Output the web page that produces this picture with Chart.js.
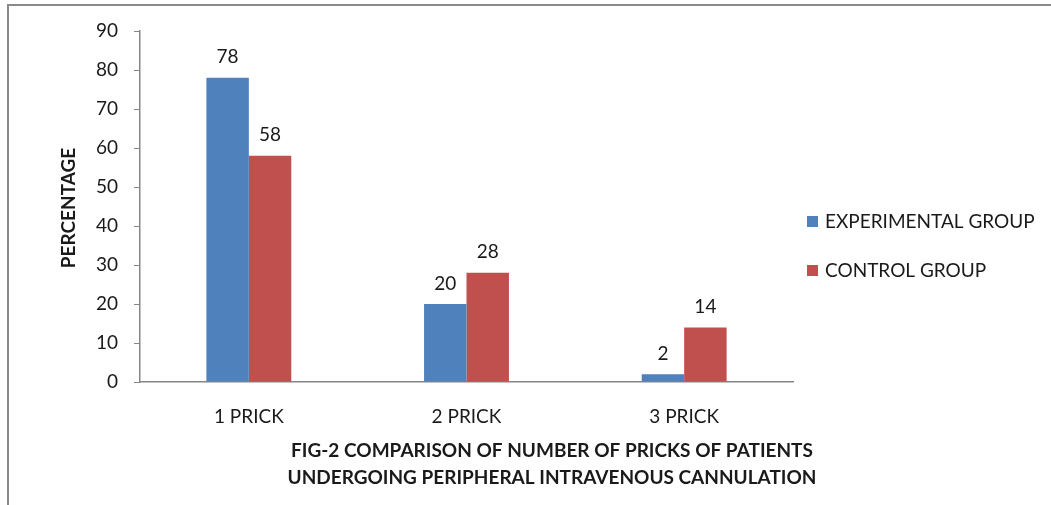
<!DOCTYPE html>
<html>
<head>
<meta charset="utf-8">
<script src="https://cdn.jsdelivr.net/npm/chart.js@4"></script>
<style>
  html, body { margin: 0; padding: 0; background: #fff; }
  #wrap { width: 1051px; height: 505px; }
</style>
</head>
<body>
<div id="wrap"><canvas id="prickChart" width="1051" height="505"></canvas></div>
<script>
const categories = ['1 PRICK', '2 PRICK', '3 PRICK'];
const experimentalValues = [78, 20, 2];
const controlValues = [58, 28, 14];
const seriesNames = ['EXPERIMENTAL GROUP', 'CONTROL GROUP'];
const yTicks = [0, 10, 20, 30, 40, 50, 60, 70, 80, 90];
const yTitle = 'PERCENTAGE';
const xTitle = ['FIG-2 COMPARISON OF NUMBER OF PRICKS OF PATIENTS', 'UNDERGOING PERIPHERAL INTRAVENOUS CANNULATION'];

const FONT = 'Lato, "Open Sans", sans-serif';
const axisGray = '#868686';
const textColor = '#1a1a1a';

// value labels over the bars
const barLabels = {
    id: 'barLabels',
    afterDatasetsDraw(chart) {
        const ctx = chart.ctx;
        ctx.save();
        ctx.font = `19px ${FONT}`;
        ctx.fillStyle = textColor;
        ctx.textAlign = 'center';
        ctx.textBaseline = 'bottom';
        chart.data.datasets.forEach((ds, i) => {
            chart.getDatasetMeta(i).data.forEach((bar, j) => {
                ctx.fillText(ds.data[j], bar.x, bar.y - 11);
            });
        });
        ctx.restore();
    }
};

// frame, axis titles and legend
const decorations = {
    id: 'decorations',
    afterDraw(chart) {
        const ctx = chart.ctx;
        ctx.save();

        // outer frame (top + left only, the rest is cut off)
        ctx.strokeStyle = '#8a8a8a';
        ctx.lineWidth = 2;
        ctx.beginPath();
        ctx.moveTo(8, 505);
        ctx.lineTo(8, 5);
        ctx.lineTo(1051, 5);
        ctx.stroke();

        // y title
        ctx.fillStyle = textColor;
        ctx.font = `bold 19px ${FONT}`;
        ctx.textAlign = 'center';
        ctx.textBaseline = 'middle';
        ctx.translate(69, 208);
        ctx.rotate(-Math.PI / 2);
        ctx.fillText(yTitle, 0, 0);
        ctx.setTransform(1, 0, 0, 1, 0, 0);

        // x title
        ctx.font = `bold 19px ${FONT}`;
        ctx.fillText(xTitle[0], 552, 451);
        ctx.fillText(xTitle[1], 552, 478);

        // legend
        ctx.textAlign = 'left';
        ctx.font = `19px ${FONT}`;
        chart.data.datasets.forEach((ds, i) => {
            const y = 221 + i * 49;
            ctx.fillStyle = ds.backgroundColor;
            ctx.fillRect(807, y - 5, 11, 11);
            ctx.fillStyle = textColor;
            ctx.fillText(ds.label, 825, y + 1);
        });

        ctx.restore();
    }
};

const ctx = document.getElementById('prickChart').getContext('2d');

const myChart = new Chart(ctx, {
    type: 'bar',
    data: {
        labels: categories,
        datasets: [
            {
                label: seriesNames[0],
                data: experimentalValues,
                backgroundColor: '#4f81bd',
            },
            {
                label: seriesNames[1],
                data: controlValues,
                backgroundColor: '#c0504d',
            },
        ],
    },
    options: {
        responsive: false,
        animation: false,
        devicePixelRatio: 1,
        layout: {
            padding: { left: 0, top: 31, right: 258, bottom: 0 },
        },
        datasets: {
            bar: {
                categoryPercentage: 0.39,
                barPercentage: 1,
            },
        },
        plugins: {
            legend: { display: false },
            tooltip: { enabled: false },
        },
        scales: {
            x: {
                grid: { display: false },
                border: { display: true, color: axisGray, width: 1.5 },
                ticks: {
                    font: { family: FONT, size: 19 },
                    color: textColor,
                    padding: 15,
                },
                afterFit(scale) {
                    scale.height = 505 - 382;
                },
            },
            y: {
                min: 0,
                max: 90,
                afterBuildTicks(scale) {
                    scale.ticks = yTicks.map(v => ({ value: v }));
                },
                grid: {
                    drawOnChartArea: false,
                    drawTicks: true,
                    tickLength: 6,
                    color: axisGray,
                },
                border: { display: true, color: axisGray, width: 1.5 },
                ticks: {
                    font: { family: FONT, size: 19 },
                    color: textColor,
                    padding: 16,
                },
                afterFit(scale) {
                    scale.width = 140;
                },
            },
        },
    },
    plugins: [barLabels, decorations],
});
</script>
</body>
</html>
